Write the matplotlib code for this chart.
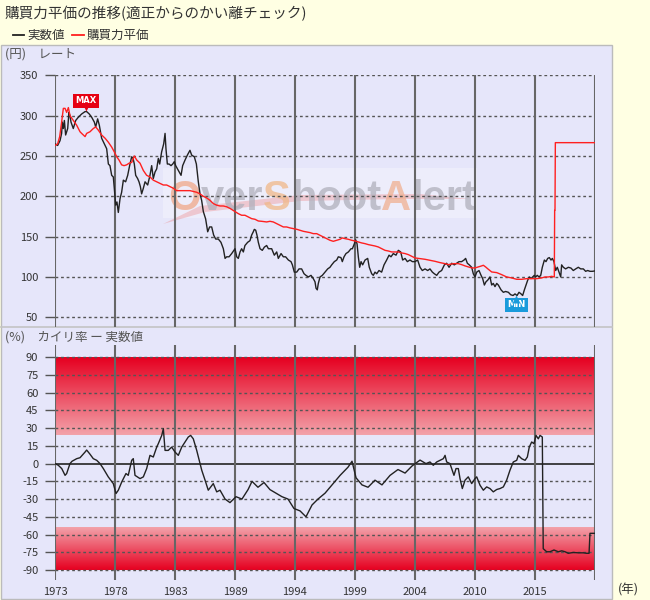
import matplotlib
matplotlib.use("Agg")
import matplotlib.pyplot as plt
import numpy as np
from matplotlib.colors import LinearSegmentedColormap
from matplotlib.patches import Rectangle, Polygon
from matplotlib.lines import Line2D

plt.rcParams['font.family'] = ['Noto Sans CJK JP', 'DejaVu Sans']
plt.rcParams['axes.unicode_minus'] = False

# ---- data ----
rate_years = [1973.00, 1973.23, 1973.44, 1973.58, 1973.64, 1973.73, 1973.82, 1973.93, 1974.11, 1974.22,
              1974.31, 1974.40, 1974.60, 1974.81, 1975.04, 1975.33, 1975.63, 1975.77, 1976.00, 1976.21,
              1976.44, 1976.56, 1976.73, 1976.88, 1977.08, 1977.38, 1977.52, 1977.67, 1977.81, 1977.96,
              1978.10, 1978.19, 1978.31, 1978.42, 1978.54, 1978.69, 1978.83, 1978.98, 1979.18, 1979.36,
              1979.53, 1979.71, 1979.83, 1979.94, 1980.06, 1980.23, 1980.35, 1980.47, 1980.58, 1980.73,
              1980.88, 1981.11, 1981.31, 1981.46, 1981.60, 1981.75, 1981.90, 1982.04, 1982.16, 1982.33,
              1982.51, 1982.63, 1982.71, 1982.83, 1982.98, 1983.15, 1983.30, 1983.44, 1983.56, 1983.79,
              1984.03, 1984.17, 1984.38, 1984.58, 1984.81, 1984.96, 1985.19, 1985.37, 1985.54, 1985.69,
              1985.83, 1985.98, 1986.18, 1986.36, 1986.53, 1986.71, 1986.88, 1987.06, 1987.29, 1987.52,
              1987.73, 1987.88, 1988.02, 1988.23, 1988.46, 1988.75,
              1988.90, 1989.04, 1989.19, 1989.33, 1989.48, 1989.62, 1989.86, 1990.06, 1990.21, 1990.35,
              1990.44, 1990.56, 1990.67, 1990.79, 1990.94, 1991.14, 1991.32, 1991.52, 1991.67, 1991.96,
              1992.19, 1992.40, 1992.54, 1992.78, 1992.98, 1993.18, 1993.42, 1993.65, 1993.77, 1993.94,
              1994.15, 1994.35, 1994.58, 1994.79, 1994.96, 1995.17, 1995.40, 1995.60, 1995.75, 1995.84,
              1995.95, 1996.04, 1996.19, 1996.39, 1996.63, 1996.86, 1997.06, 1997.21, 1997.44, 1997.65,
              1997.79, 1998.02, 1998.14, 1998.29, 1998.46, 1998.67, 1998.90, 1999.02, 1999.19, 1999.31,
              1999.43, 1999.54, 1999.66, 1999.78, 1999.92, 2000.13, 2000.36, 2000.50, 2000.71, 2000.85,
              2001.00, 2001.15, 2001.35, 2001.58, 2001.79, 2002.02, 2002.23, 2002.40, 2002.60, 2002.84,
              2003.04, 2003.25, 2003.42, 2003.63, 2003.83, 2004.06, 2004.27, 2004.50,
              2004.73, 2004.94, 2005.14, 2005.38, 2005.61, 2005.81, 2006.02, 2006.19, 2006.40, 2006.60,
              2006.83, 2007.07, 2007.27, 2007.48, 2007.71, 2007.94, 2008.15, 2008.35, 2008.58, 2008.79,
              2008.93, 2009.08, 2009.25, 2009.46, 2009.60, 2009.75, 2009.90, 2010.10, 2010.28, 2010.42,
              2010.57, 2010.71, 2010.86, 2011.06, 2011.21, 2011.35, 2011.50, 2011.65, 2011.79, 2012.03,
              2012.23, 2012.43, 2012.67, 2012.87, 2013.08, 2013.25, 2013.43, 2013.60, 2013.78, 2013.92,
              2014.07, 2014.21, 2014.36, 2014.50, 2014.65, 2014.80, 2014.94, 2015.06, 2015.20, 2015.35,
              2015.50, 2015.64, 2015.82, 2015.96, 2016.11, 2016.25, 2016.40, 2016.52, 2016.66, 2016.81,
              2016.95, 2017.10, 2017.25, 2017.33, 2017.48, 2017.68, 2017.92, 2018.15, 2018.35, 2018.56,
              2018.79, 2019.00, 2019.23, 2019.43, 2019.61, 2019.81, 2020.02, 2020.25]
rate_vals = [265, 263, 269, 278, 292, 284, 294, 276, 284, 304,
             300, 292, 284, 294, 298, 302, 305, 305, 302, 298,
             292, 286, 296, 288, 272, 263, 259, 240, 238, 226,
             224, 210, 189, 193, 180, 197, 205, 220, 218, 226,
             238, 249, 247, 240, 226, 222, 218, 212, 203, 210,
             218, 214, 226, 238, 222, 230, 234, 247, 240, 255,
             265, 278, 259, 240, 240, 238, 240, 243, 238, 232,
             226, 238, 245, 251, 257, 251, 249, 240, 218, 203,
             195, 181, 172, 156, 162, 162, 152, 147, 147, 143,
             135, 123, 125, 125, 129, 135,
             125, 123, 131, 135, 131, 139, 143, 145, 152, 156,
             159, 158, 152, 143, 135, 133, 137, 139, 135, 135,
             127, 131, 123, 129, 125, 125, 121, 119, 115, 106,
             106, 110, 110, 104, 102, 100, 102, 98, 94, 86,
             84, 92, 100, 102, 106, 110, 112, 115, 119, 121,
             125, 124, 119, 125, 129, 131, 135, 135, 141, 146,
             141, 125, 112, 119, 115, 121, 123, 112, 104, 102,
             106, 104, 108, 106, 115, 121, 127, 125, 129, 127,
             133, 131, 121, 123, 119, 121, 119, 119,
             121, 112, 108, 110, 108, 110, 106, 104, 102, 106,
             108, 115, 117, 112, 117, 115, 117, 119, 119, 121,
             123, 117, 115, 112, 104, 100, 106, 108, 102, 98,
             90, 94, 96, 100, 90, 92, 88, 92, 90, 84,
             81, 82, 81, 78, 77, 79, 77, 81, 79, 77,
             84, 90, 96, 100, 98, 100, 102, 100, 102, 100,
             102, 112, 121, 119, 123, 124, 121, 123, 119, 108,
             112, 106, 100, 115, 112, 110, 112, 111, 108, 110,
             112, 110, 110, 107, 108, 107, 107, 107.5]

ppp_years = [1973.00, 1973.23, 1973.41, 1973.58, 1973.73, 1973.88, 1974.02, 1974.17, 1974.31, 1974.60,
             1974.90, 1975.19, 1975.33, 1975.63, 1975.77, 1976.06, 1976.35, 1976.56, 1976.79, 1977.08,
             1977.38, 1977.67, 1977.96, 1978.19, 1978.40, 1978.60, 1978.83, 1979.04, 1979.27, 1979.48,
             1979.71, 1979.94, 1980.15, 1980.44, 1980.73, 1981.02, 1981.31, 1981.60, 1981.90, 1982.19,
             1982.48, 1982.77, 1983.06, 1983.35, 1983.65, 1983.94, 1984.23, 1984.52, 1984.81, 1985.10,
             1985.40, 1985.69, 1985.98, 1986.27, 1986.56, 1986.85, 1987.15, 1987.44, 1987.73, 1988.02,
             1988.31, 1988.75,
             1989.04, 1989.33, 1989.62, 1989.92, 1990.21, 1990.50, 1990.79, 1991.08, 1991.52, 1991.81,
             1992.10, 1992.40, 1992.69, 1992.98, 1993.27, 1993.56, 1993.85, 1994.15, 1994.44, 1994.73,
             1995.02, 1995.31, 1995.60, 1995.90, 1996.19, 1996.48, 1996.77, 1997.06, 1997.35, 1997.65,
             1997.94, 1998.14, 1998.38, 1998.67, 1998.96, 1999.25, 1999.54, 1999.83, 2000.13, 2000.42,
             2000.71, 2001.00, 2001.29, 2001.58, 2001.88, 2002.17, 2002.46, 2002.75, 2003.04, 2003.33,
             2003.63, 2003.92, 2004.21, 2004.50,
             2004.94, 2005.38, 2005.81, 2006.25, 2006.69, 2007.13, 2007.42, 2007.85, 2008.29, 2008.58,
             2008.88, 2009.17, 2009.46, 2009.75, 2010.04, 2010.33, 2010.48, 2010.68, 2010.92, 2011.21,
             2011.65, 2012.08, 2012.52, 2012.96, 2013.40, 2013.83, 2014.27, 2014.71, 2015.15, 2015.58,
             2015.88, 2016.17, 2016.46, 2016.69, 2016.72, 2016.75, 2016.78, 2020.25]
ppp_vals = [263, 265, 274, 292, 309, 309, 304, 310, 300, 294,
            288, 280, 278, 274, 278, 280, 284, 286, 282, 276,
            272, 267, 261, 255, 249, 245, 239, 238, 239, 241,
            242, 250, 245, 241, 232, 226, 224, 220, 218, 216,
            214, 214, 212, 210, 207, 207, 207, 207, 207, 206,
            205, 203, 200, 198, 195, 191, 189, 188, 188, 187,
            185, 181,
            178.5, 176.5, 176.5, 174.4, 172.3, 171.5, 169.4, 169, 168.2, 169,
            168.2, 166.1, 164, 162, 162, 160.8, 159.9, 159.1, 157.9, 156.6,
            155.8, 155, 153.7, 153.7, 151.7, 149.6, 147.5, 145.5, 144.2, 145.5,
            146.7, 148.4, 147.5, 146.7, 145.5, 144.6, 143.4, 142.2, 141.3, 140.1,
            139.3, 138.4, 137.2, 135.1, 133, 132.2, 131, 131, 131, 129.8,
            129, 127.7, 125.6, 123.6,
            122.7, 121.9, 120.7, 119.4, 117.8, 116.5, 115.3, 116.5, 116.5, 115.3,
            113.7, 112.4, 111.2, 111.2, 112.4, 113.7, 114.5, 112.4, 109.5, 106.2,
            105.4, 102.9, 100, 98.8, 97.1, 97.1, 97.9, 97.9, 97.9, 98.8,
            100, 100, 100.8, 100, 182.6, 182.6, 266.5, 266.5]

dev_years = [1973.00, 1973.29, 1973.59, 1973.73, 1973.88, 1974.02, 1974.31, 1974.49, 1974.90, 1975.19,
             1975.63, 1975.77, 1976.06, 1976.35, 1976.65, 1976.94, 1977.23, 1977.66, 1978.10, 1978.34,
             1978.54, 1978.84, 1979.21, 1979.41, 1979.71, 1979.85, 1980.00, 1980.44, 1980.73, 1981.02,
             1981.31, 1981.60, 1981.90, 1982.04, 1982.34, 1982.48, 1982.63, 1982.91, 1983.21, 1983.50,
             1983.79, 1984.09, 1984.38, 1984.66, 1984.87, 1985.10, 1985.40, 1985.69, 1985.84, 1986.13,
             1986.41, 1986.85, 1987.15, 1987.44,
             1987.88, 1988.31, 1988.84, 1989.36, 1989.89, 1990.24, 1990.76, 1991.29, 1991.81, 1992.34,
             1992.86, 1993.39, 1993.91, 1994.44, 1994.96, 1995.49, 1996.01, 1996.63, 1997.24, 1997.94,
             1998.64, 1998.99, 1999.34, 1999.86, 2000.39, 2001.00, 2001.61, 2002.31, 2003.01, 2003.63,
             2004.24, 2004.94, 2005.46,
             2005.81, 2006.10, 2006.40, 2006.69, 2006.98, 2007.13, 2007.27, 2007.56, 2007.71, 2007.91,
             2008.09, 2008.29, 2008.44, 2008.64, 2008.88, 2009.16, 2009.46, 2009.75, 2009.90, 2010.19,
             2010.48, 2010.77, 2011.06, 2011.35, 2011.65, 2011.94, 2012.23, 2012.52, 2012.81, 2013.10,
             2013.40, 2013.54, 2013.83, 2014.13, 2014.33, 2014.50, 2014.71, 2014.91, 2015.09, 2015.29,
             2015.44, 2015.64, 2015.72, 2016.02, 2016.31, 2016.66, 2017.04, 2017.34, 2017.63, 2017.91,
             2018.35, 2018.79, 2019.23, 2019.52, 2019.73, 2019.81, 2020.25]
dev_vals = [0, -1.4, -4.2, -7, -9.9, -8.4, 0, 2, 4.2, 5,
            9.8, 11.5, 8, 4.2, 2.8, 0, -4.2, -11.2, -16.9, -25.3,
            -22.5, -15.5, -8.4, -9.9, 2.8, 4.2, -9.9, -12.7, -11.2, -4.2,
            7, 5.6, 14, 16.9, 23.9, 29.5, 11.2, 11.2, 14, 9.8,
            7, 14, 18.3, 22.5, 23.9, 21, 11.2, 0, -5.6, -14,
            -22.5, -16.9, -23.9, -22.5,
            -30, -33, -28, -30, -22, -15, -20, -16, -22, -25,
            -28, -30, -38, -40, -45, -35, -30, -25, -18, -10,
            -3, 2, -12, -18, -20, -14, -18, -10, -5, -8,
            -2, 3, 0,
            1.4, -1.4, 1.4, 2.8, 4.2, 7, 1.4, 0, -4.2, -9.9,
            -4.2, -4.2, -12.7, -21.1, -14, -11.2, -16.9, -12.7, -11.2, -18.3,
            -22.5, -19.7, -21.1, -23.9, -21.9, -21.1, -19.7, -14, -5.6, 1.4,
            2.8, 7, 4.2, 2.8, 5.6, 14, 18.3, 16.9, 23.9, 21,
            23.9, 22.5, -72, -74.6, -74.6, -73.1, -74.6, -73.8, -74.6, -75.9,
            -75.2, -75.5, -75.5, -75.9, -75.9, -59, -59]

tick_pos = [1973, 1978.25, 1983.5, 1988.75, 1994.0, 1999.25, 2004.5, 2009.75, 2015.0, 2020.25]
tick_lbl = ['1973', '1978', '1983', '1989', '1994', '1999', '2004', '2010', '2015', '']
rate_ticks = [50, 100, 150, 200, 250, 300, 350]
dev_ticks = [-90, -75, -60, -45, -30, -15, 0, 15, 30, 45, 60, 75, 90]
over_band = (24, 90)
under_band = (-90, -54)
max_point = (1975.74, 318.5)
min_point = (2013.36, 65.5)

# ---- figure ----
W, H = 650, 600
fig = plt.figure(figsize=(6.5, 6.0), dpi=100, facecolor='#FFFFE3')


def fx(px):
    return px / W


def fy(py):
    return 1 - py / H


LAV = '#E6E6FA'
GRID = '#555555'
TXT = '#333333'

fig.add_artist(Rectangle((fx(1), fy(599)), 611 / W, 554 / H, transform=fig.transFigure,
                         facecolor=LAV, edgecolor='#BBBBBB', lw=1, zorder=-1))
fig.add_artist(Line2D([fx(1), fx(612)], [fy(327.5)] * 2, color='#C4C4C4', lw=1.2, zorder=-0.5))

# header
fig.text(fx(5), fy(14), '購買力平価の推移(適正からのかい離チェック)', fontsize=10.5,
         color=TXT, va='center', ha='left')
fig.add_artist(Line2D([fx(13), fx(24)], [fy(35)] * 2, color='#222222', lw=1.3))
fig.text(fx(27), fy(35), '実数値', fontsize=9, color=TXT, va='center')
fig.add_artist(Line2D([fx(72), fx(84)], [fy(35)] * 2, color='#FF2020', lw=1.3))
fig.text(fx(87), fy(35), '購買力平価', fontsize=9, color=TXT, va='center')
fig.text(fx(5), fy(54), '(円)　レート', fontsize=9, color='#555555', va='center')
fig.text(fx(5), fy(337), '(%)　カイリ率 ー 実数値', fontsize=9, color='#555555', va='center')
fig.text(fx(628), fy(590), '(年)', fontsize=9, color=TXT, va='center', ha='center')

# ---- top: rate ----
ax1 = fig.add_axes([fx(55), fy(327.3), 540 / W, 252 / H])
ax1.set_facecolor('none')
ax1.set_xlim(tick_pos[0], tick_pos[-1])
ax1.set_ylim(37.6, 350)
for s in ax1.spines.values():
    s.set_visible(False)
for y in rate_ticks:
    ax1.axhline(y, color=GRID, lw=1, ls=(0, (2, 2)), zorder=1)
for x in tick_pos:
    ax1.axvline(x, color='#666666', lw=1.5, zorder=2)
ax1.set_yticks(rate_ticks)
ax1.set_xticks([])
ax1.tick_params(axis='y', length=7, width=1, color=GRID, labelsize=8, labelcolor=TXT, pad=5)

# watermark, drawn inside the axes under the lines
ax1.add_patch(Rectangle((fx(163), fy(218)), 314 / W, 50 / H, transform=fig.transFigure,
                        facecolor='white', edgecolor='none', alpha=0.3, zorder=0.8, clip_on=False))
ax1.add_patch(Polygon([(fx(163), fy(224)), (fx(200), fy(206)), (fx(300), fy(195)), (fx(420), fy(194)),
                       (fx(470), fy(199)), (fx(400), fy(199)), (fx(300), fy(201)), (fx(205), fy(212))],
                      closed=True, transform=fig.transFigure, facecolor='#EE8080', edgecolor='none',
                      alpha=0.35, zorder=0.8, clip_on=False))
parts = [('O', '#F0A888'), ('ver', '#B0B0BC'), ('S', '#F0B888'), ('hoot', '#B0B0BC'),
         ('A', '#F0B090'), ('lert', '#B0B0BC')]
prev = ax1.text(fx(168), fy(210), parts[0][0], transform=fig.transFigure, fontsize=30,
                fontweight='bold', family='Liberation Sans', color=parts[0][1], alpha=0.75,
                va='baseline', zorder=0.9, clip_on=False)
for s, c in parts[1:]:
    prev = ax1.annotate(s, xy=(1, 0), xycoords=prev, va='bottom', fontsize=30, fontweight='bold',
                        family='Liberation Sans', color=c, alpha=0.75, zorder=0.9,
                        annotation_clip=False)

ax1.plot(rate_years, rate_vals, color='#222222', lw=1, zorder=3)
ax1.plot(ppp_years, ppp_vals, color='#FF2020', lw=1, zorder=4)

ax1.text(max_point[0], max_point[1], 'MAX', ha='center', va='center', color='white', fontsize=6,
         fontweight='bold', family='DejaVu Sans',
         bbox=dict(boxstyle='square,pad=0.3', fc='#E60012', ec='none'), zorder=6)
ax1.plot(max_point[0], max_point[1] - 7.5, marker='v', ms=6, color='#E60012', mec='none', zorder=6)
ax1.text(min_point[0], min_point[1], 'MIN', ha='center', va='center', color='white', fontsize=6,
         fontweight='bold', family='DejaVu Sans',
         bbox=dict(boxstyle='square,pad=0.3', fc='#1A9BDB', ec='none'), zorder=6)
ax1.plot(min_point[0], min_point[1] + 7, marker='^', ms=6, color='#1A9BDB', mec='none', zorder=6)

# ---- bottom: deviation ----
ax2 = fig.add_axes([fx(55), fy(580), 540 / W, 235 / H])
ax2.set_facecolor('none')
band_cmap = LinearSegmentedColormap.from_list('band', ['#F3A2AA', '#E60020'])
grad = np.linspace(0, 1, 128).reshape(-1, 1)
ax2.imshow(grad, cmap=band_cmap, origin='lower', aspect='auto',
           extent=[tick_pos[0], tick_pos[-1], over_band[0], over_band[1]], zorder=0.5)
ax2.imshow(grad[::-1], cmap=band_cmap, origin='lower', aspect='auto',
           extent=[tick_pos[0], tick_pos[-1], under_band[0], under_band[1]], zorder=0.5)
ax2.set_xlim(tick_pos[0], tick_pos[-1])
ax2.set_ylim(-98.5, 100.4)
for s in ax2.spines.values():
    s.set_visible(False)
for y in dev_ticks:
    if y == 0:
        ax2.axhline(y, color='#333333', lw=1.3, zorder=1)
    else:
        ax2.axhline(y, color=GRID, lw=1, ls=(0, (2, 2)), zorder=1)
for x in tick_pos:
    ax2.axvline(x, color='#666666', lw=1.5, zorder=2)
ax2.plot(dev_years, dev_vals, color='#222222', lw=1, zorder=3)
ax2.set_yticks(dev_ticks)
ax2.set_yticklabels([str(v) for v in dev_ticks])
ax2.set_xticks(tick_pos)
ax2.set_xticklabels(tick_lbl)
ax2.tick_params(axis='y', length=7, width=1, color=GRID, labelsize=8, labelcolor=TXT, pad=5)
ax2.tick_params(axis='x', length=0, labelsize=8, labelcolor=TXT, pad=5)

fig.savefig('out.png', dpi=100, facecolor=fig.get_facecolor())
